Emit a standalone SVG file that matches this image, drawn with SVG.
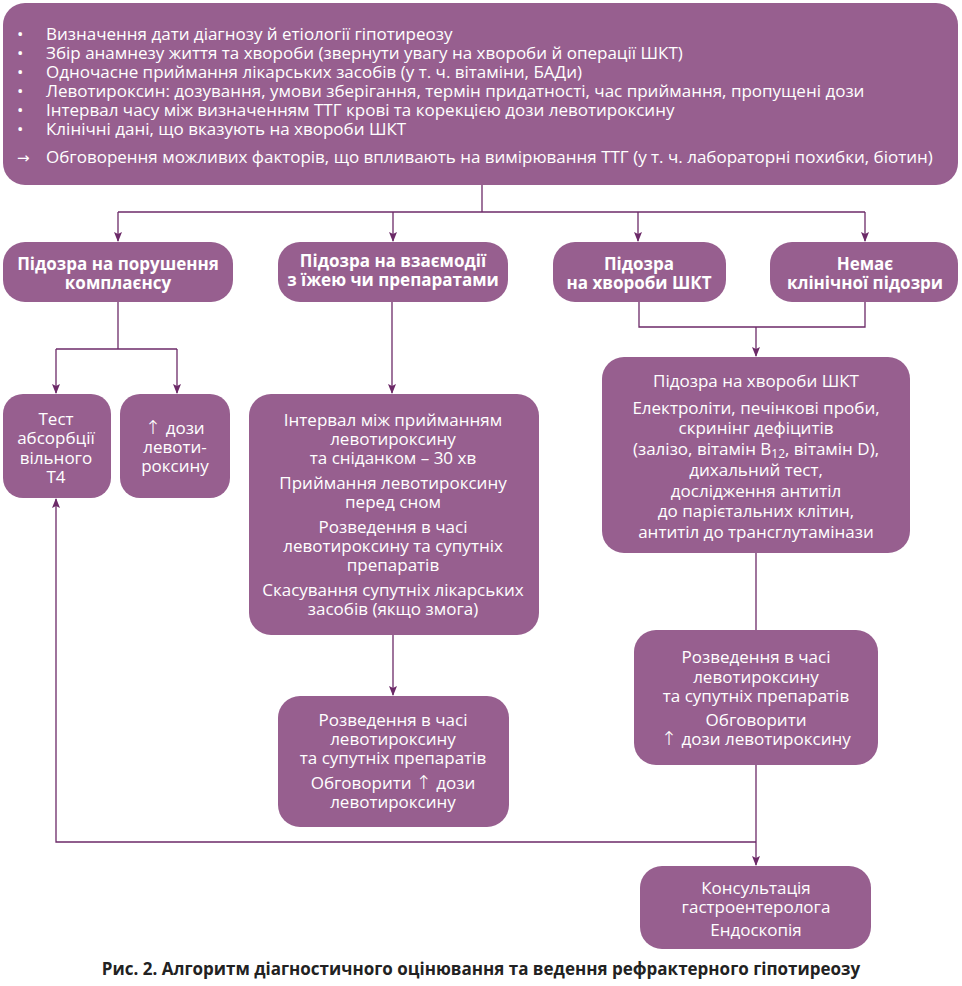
<svg xmlns="http://www.w3.org/2000/svg" width="962" height="986" viewBox="0 0 962 986">
<defs>
<style>
.box{fill:#975f8f;}
.t{font-family:"Open Sans","Noto Sans",sans-serif;font-size:17px;fill:#ffffff;}
.c{text-anchor:middle;}
.b{font-weight:bold;}
.a{font-family:"DejaVu Sans",sans-serif;font-size:19px;font-weight:200;}
.ln{fill:none;stroke:#6c2a68;stroke-width:1.3;}
.cap{font-family:"Open Sans","Noto Sans",sans-serif;font-size:17px;font-weight:bold;fill:#222222;text-anchor:middle;}
</style>
<marker id="ar" viewBox="0 0 10 10" refX="9" refY="5" markerWidth="10" markerHeight="10" markerUnits="userSpaceOnUse" orient="auto">
<path d="M0,1 L10,5 L0,9 L2,5 Z" fill="#6c2a68"/>
</marker>
</defs>
<rect width="962" height="986" fill="#ffffff"/>

<g id="connectors">
<path class="ln" d="M482,185 V212"/>
<path class="ln" d="M118,212 H865"/>
<path class="ln" d="M118,212 V241" marker-end="url(#ar)"/>
<path class="ln" d="M393,212 V241" marker-end="url(#ar)"/>
<path class="ln" d="M638,212 V241" marker-end="url(#ar)"/>
<path class="ln" d="M865,212 V241" marker-end="url(#ar)"/>
<path class="ln" d="M118,302 V349"/>
<path class="ln" d="M56,349 H177"/>
<path class="ln" d="M56,349 V393" marker-end="url(#ar)"/>
<path class="ln" d="M177,349 V393" marker-end="url(#ar)"/>
<path class="ln" d="M392,302 V393" marker-end="url(#ar)"/>
<path class="ln" d="M393,635 V695" marker-end="url(#ar)"/>
<path class="ln" d="M639,302 V327 H865 V302"/>
<path class="ln" d="M756,327 V356" marker-end="url(#ar)"/>
<path class="ln" d="M756,553 V630"/>
<path class="ln" d="M756,765 V865" marker-end="url(#ar)"/>
<path class="ln" d="M756,842 H56 V499" marker-end="url(#ar)"/>
</g>

<g id="top">
<rect class="box" x="3" y="3" width="955" height="182" rx="22"/>
<g class="t">
<text x="17" y="40">•</text><text x="46" y="40">Визначення дати діагнозу й етіології гіпотиреозу</text>
<text x="17" y="59">•</text><text x="46" y="59">Збір анамнезу життя та хвороби (звернути увагу на хвороби й операції ШКТ)</text>
<text x="17" y="78">•</text><text x="46" y="78">Одночасне приймання лікарських засобів (у т. ч. вітаміни, БАДи)</text>
<text x="17" y="97">•</text><text x="46" y="97">Левотироксин: дозування, умови зберігання, термін придатності, час приймання, пропущені дози</text>
<text x="17" y="116">•</text><text x="46" y="116">Інтервал часу між визначенням ТТГ крові та корекцією дози левотироксину</text>
<text x="17" y="135">•</text><text x="46" y="135">Клінічні дані, що вказують на хвороби ШКТ</text>
<text x="17" y="163" style="font-family:'DejaVu Sans',sans-serif;font-size:15px">→</text><text x="46" y="163">Обговорення можливих факторів, що впливають на вимірювання ТТГ (у т. ч. лабораторні похибки, біотин)</text>
</g>
</g>

<g id="compliance">
<rect class="box" x="3" y="242" width="230" height="60" rx="22"/>
<text class="t c b" x="118" y="270">Підозра на порушення</text>
<text class="t c b" x="118" y="289">комплаєнсу</text>
</g>

<g id="interaction">
<rect class="box" x="278" y="242" width="230" height="60" rx="22"/>
<text class="t c b" x="393" y="267">Підозра на взаємодії</text>
<text class="t c b" x="393" y="286">з їжею чи препаратами</text>
</g>

<g id="gi">
<rect class="box" x="553" y="242" width="173" height="60" rx="22"/>
<text class="t c b" x="639" y="270">Підозра</text>
<text class="t c b" x="639" y="289">на хвороби ШКТ</text>
</g>

<g id="noclin">
<rect class="box" x="770" y="242" width="188" height="60" rx="22"/>
<text class="t c b" x="865" y="270">Немає</text>
<text class="t c b" x="865" y="289">клінічної підозри</text>
</g>

<g id="t4test">
<rect class="box" x="3" y="394" width="108" height="104" rx="20"/>
<text class="t c" x="56" y="425">Тест</text>
<text class="t c" x="56" y="444">абсорбції</text>
<text class="t c" x="56" y="464">вільного</text>
<text class="t c" x="56" y="483">Т4</text>
</g>

<g id="dose">
<rect class="box" x="120" y="394" width="110" height="104" rx="20"/>
<text class="t c" x="175" y="434"><tspan class="a">↑</tspan> дози</text>
<text class="t c" x="175" y="453">левоти-</text>
<text class="t c" x="175" y="472">роксину</text>
</g>

<g id="interval">
<rect class="box" x="249" y="394" width="290" height="241" rx="22"/>
<text class="t c" x="393" y="426">Інтервал між прийманням</text>
<text class="t c" x="393" y="445">левотироксину</text>
<text class="t c" x="393" y="464">та сніданком – 30 хв</text>
<text class="t c" x="393" y="489">Приймання левотироксину</text>
<text class="t c" x="393" y="508">перед сном</text>
<text class="t c" x="393" y="533">Розведення в часі</text>
<text class="t c" x="393" y="552">левотироксину та супутніх</text>
<text class="t c" x="393" y="571">препаратів</text>
<text class="t c" x="393" y="596">Скасування супутніх лікарських</text>
<text class="t c" x="393" y="615">засобів (якщо змога)</text>
</g>

<g id="separate1">
<rect class="box" x="278" y="696" width="231" height="131" rx="22"/>
<text class="t c" x="393" y="726">Розведення в часі</text>
<text class="t c" x="393" y="745">левотироксину</text>
<text class="t c" x="393" y="764">та супутніх препаратів</text>
<text class="t c" x="393" y="789">Обговорити <tspan class="a">↑</tspan> дози</text>
<text class="t c" x="393" y="808">левотироксину</text>
</g>

<g id="gitests">
<rect class="box" x="602" y="357" width="308" height="196" rx="22"/>
<text class="t c" x="756" y="387">Підозра на хвороби ШКТ</text>
<text class="t c" x="756" y="414">Електроліти, печінкові проби,</text>
<text class="t c" x="756" y="434">скринінг дефіцитів</text>
<text class="t c" x="756" y="455">(залізо, вітамін B<tspan font-size="12" dy="3">12</tspan><tspan dy="-3">, вітамін D),</tspan></text>
<text class="t c" x="756" y="476">дихальний тест,</text>
<text class="t c" x="756" y="497">дослідження антитіл</text>
<text class="t c" x="756" y="517">до парієтальних клітин,</text>
<text class="t c" x="756" y="538">антитіл до трансглутамінази</text>
</g>

<g id="separate2">
<rect class="box" x="634" y="630" width="244" height="135" rx="22"/>
<text class="t c" x="756" y="663">Розведення в часі</text>
<text class="t c" x="756" y="683">левотироксину</text>
<text class="t c" x="756" y="702">та супутніх препаратів</text>
<text class="t c" x="756" y="726">Обговорити</text>
<text class="t c" x="756" y="745"><tspan class="a">↑</tspan> дози левотироксину</text>
</g>

<g id="gastro">
<rect class="box" x="640" y="866" width="231" height="83" rx="22"/>
<text class="t c" x="756" y="894">Консультація</text>
<text class="t c" x="756" y="913">гастроентеролога</text>
<text class="t c" x="756" y="936">Ендоскопія</text>
</g>

<text class="cap" x="481" y="975">Рис. 2. Алгоритм діагностичного оцінювання та ведення рефрактерного гіпотиреозу</text>
</svg>
